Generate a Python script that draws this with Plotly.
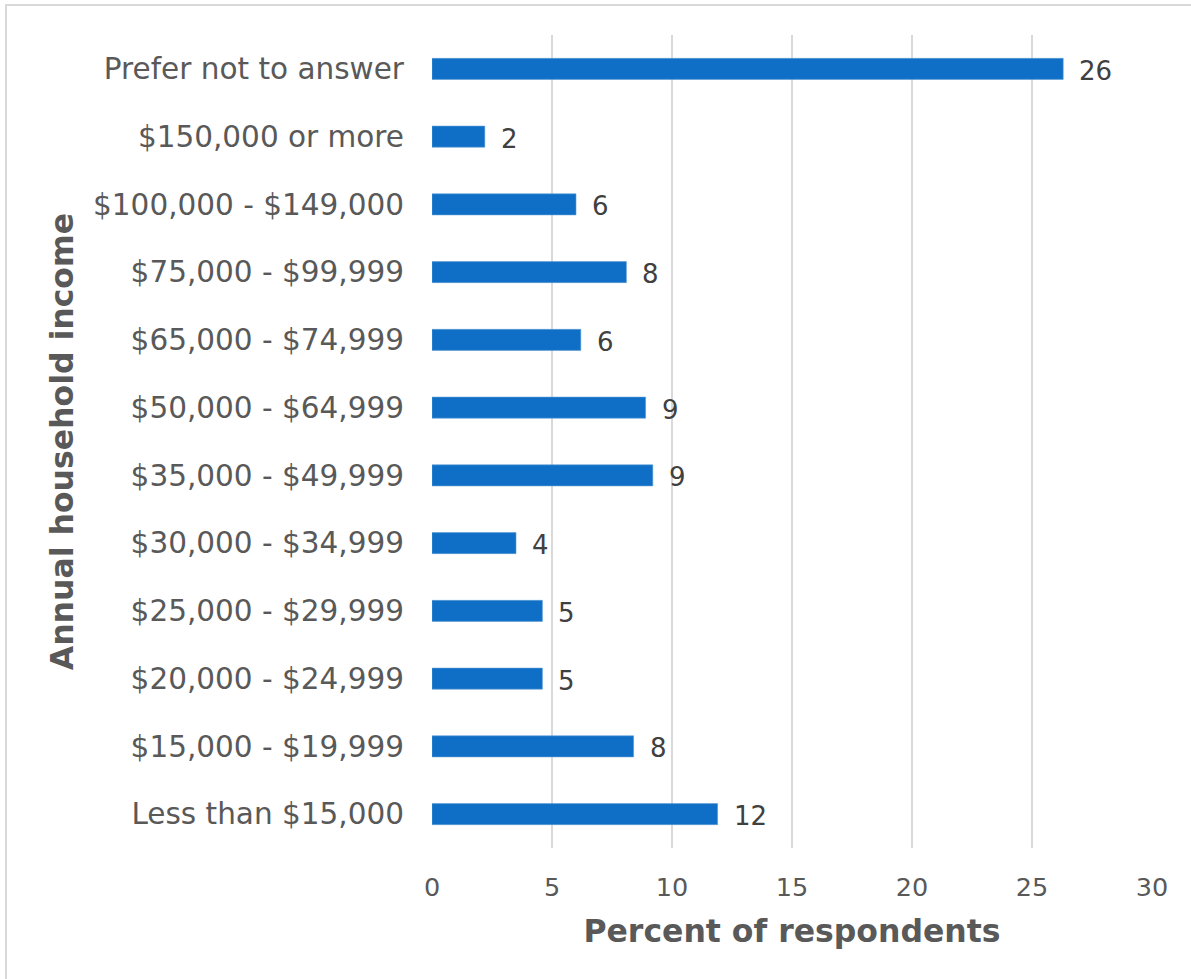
import plotly.graph_objects as go

# Annual household income of respondents (percent)
categories = [
    "Less than $15,000",
    "$15,000 - $19,999",
    "$20,000 - $24,999",
    "$25,000 - $29,999",
    "$30,000 - $34,999",
    "$35,000 - $49,999",
    "$50,000 - $64,999",
    "$65,000 - $74,999",
    "$75,000 - $99,999",
    "$100,000 - $149,000",
    "$150,000 or more",
    "Prefer not to answer",
]
percents = [11.9, 8.4, 4.6, 4.6, 3.5, 9.2, 8.9, 6.2, 8.1, 6.0, 2.2, 26.3]
x_ticks = [0, 5, 10, 15, 20, 25, 30]

W, H = 1191, 979
ML, MR, MT, MB = 432, 39, 35, 131
FONT = "DejaVu Sans"
BAR = "#0f6fc6"
GRID = "#d9d9d9"
TEXT = "#595959"

fig = go.Figure(
    go.Bar(
        x=percents,
        y=categories,
        orientation="h",
        marker=dict(color=BAR, line=dict(color="#5b9bd5", width=0.6)),
        width=0.31,
        hoverinfo="skip",
    )
)

# value labels next to each bar
for cat, val in zip(categories, percents):
    fig.add_annotation(
        x=val, y=cat, xref="x", yref="y",
        text=f"{val:.0f}", showarrow=False,
        xanchor="left", yanchor="middle", xshift=14, yshift=-2,
        font=dict(family=FONT, size=26, color="#404040"),
    )

# light frame around the chart (right/bottom edges fall outside the canvas)
pw = W - ML - MR
ph = H - MT - MB
fig.add_shape(
    type="rect", xref="paper", yref="paper",
    x0=(6 - ML) / pw, x1=(W + 6 - ML) / pw,
    y0=1 - (H + 6 - MT) / ph,
    y1=1 - (5 - MT) / ph,
    line=dict(color=GRID, width=2), fillcolor="rgba(0,0,0,0)", layer="below",
)

fig.update_layout(
    width=W, height=H,
    margin=dict(l=ML, r=MR, t=MT, b=MB),
    paper_bgcolor="white", plot_bgcolor="white",
    showlegend=False,
    font=dict(family=FONT, color=TEXT),
    xaxis=dict(
        range=[0, 30], tickvals=x_ticks, ticktext=[str(t) for t in x_ticks],
        showgrid=True, gridcolor=GRID, gridwidth=1.5,
        zeroline=False, showline=False,
        tickfont=dict(family=FONT, size=25.5, color=TEXT),
        ticks="", ticklabelstandoff=21,
        title=dict(text="<b>Percent of respondents</b>",
                   font=dict(family=FONT, size=31.5, color=TEXT), standoff=19),
        fixedrange=True,
    ),
    yaxis=dict(
        categoryorder="array", categoryarray=categories,
        range=[-0.5, len(categories) - 0.5],
        showgrid=False, zeroline=False, showline=False,
        tickfont=dict(family=FONT, size=29.5, color=TEXT),
        ticks="", ticklabelstandoff=27,
        title=dict(text="<b>Annual household income</b>",
                   font=dict(family=FONT, size=31.5, color=TEXT), standoff=10),
        fixedrange=True,
    ),
)

fig.write_html("out.html")
